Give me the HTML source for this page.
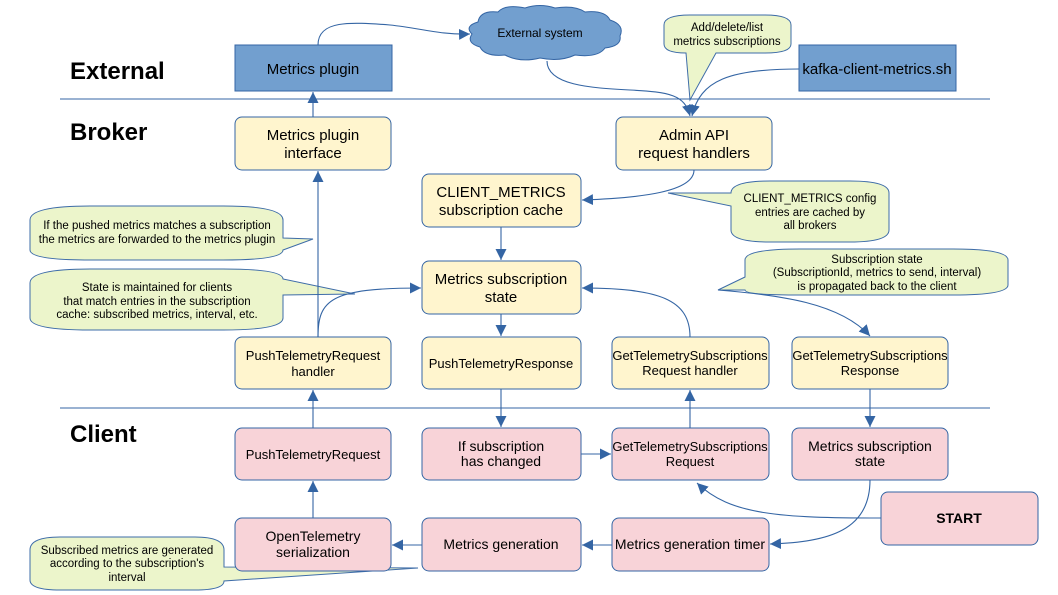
<!DOCTYPE html>
<html><head><meta charset="utf-8"><style>
html,body{margin:0;padding:0;background:#fff;}
svg{display:block;font-family:"Liberation Sans",sans-serif;}
</style></head><body>
<svg width="1058" height="595" viewBox="0 0 1058 595" xmlns="http://www.w3.org/2000/svg">
<defs>
<marker id="a" viewBox="0 0 10 10" refX="10" refY="5" markerWidth="11" markerHeight="11" markerUnits="userSpaceOnUse" orient="auto"><path d="M0,0 L10,5 L0,10 z" fill="#3465a4"/></marker>
</defs>
<!-- lanes -->
<line x1="60" y1="99" x2="990" y2="99" stroke="#3465a4" stroke-width="1"/>
<line x1="60" y1="408" x2="990" y2="408" stroke="#3465a4" stroke-width="1"/>
<g font-weight="bold" font-size="24" fill="#000">
<text x="70" y="79">External</text>
<text x="70" y="140">Broker</text>
<text x="70" y="442">Client</text>
</g>

<!-- callouts -->
<g fill="#ebf5c9" stroke="#3465a4" stroke-width="1" opacity="0.95">
<path d="M30,220 Q30,206 90,206 L223,206 Q283,206 283,220 L283,238 L313,239 L283,250 Q283,260 223,260 L90,260 Q30,260 30,250 Z"/>
<path d="M30,283 Q30,269 90,269 L223,269 Q283,269 283,279 L355,294 L283,295 L283,318 Q283,330 223,330 L90,330 Q30,330 30,318 Z"/>
<path d="M664,25 Q664,15 690,15 L765,15 Q791,15 791,25 L791,44 Q791,53 765,53 L716,53 L690,100 L686,53 Q664,53 664,44 Z"/>
<path d="M731,193 Q731,181 770,181 L850,181 Q889,181 889,193 L889,230 Q889,242 850,242 L770,242 Q731,242 731,230 L731,206 L668,193 Z"/>
<path d="M745,260 Q745,249 800,249 L953,249 Q1008,249 1008,260 L1008,285 Q1008,295 953,295 L800,295 Q745,295 745,290 L718,290 L745,277 Z"/>
<path d="M30,550 Q30,537 60,537 L195,537 Q224,537 224,550 L224,567 L418,568 L224,581 Q224,590 195,590 L60,590 Q30,590 30,580 Z"/>
</g>
<g font-size="11.5" fill="#000" text-anchor="middle">
<text x="157" y="229">If the pushed metrics matches a subscription</text>
<text x="157" y="243">the metrics are forwarded to the metrics plugin</text>
<text x="157" y="291">State is maintained for clients</text>
<text x="157" y="305">that match entries in the subscription</text>
<text x="157" y="318">cache: subscribed metrics, interval, etc.</text>
<text x="727" y="31">Add/delete/list</text>
<text x="727" y="45">metrics subscriptions</text>
<text x="810" y="202">CLIENT_METRICS config</text>
<text x="810" y="216">entries are cached by</text>
<text x="810" y="229">all brokers</text>
<text x="877" y="263">Subscription state</text>
<text x="877" y="276">(SubscriptionId, metrics to send, interval)</text>
<text x="877" y="290">is propagated back to the client</text>
<text x="127" y="554">Subscribed metrics are generated</text>
<text x="127" y="567">according to the subscription's</text>
<text x="127" y="581">interval</text>
</g>

<!-- cloud -->
<path d="M478,22 Q480,10 498,12 Q505,4 525,8 Q540,3 555,8 Q575,5 585,12 Q605,10 610,20 Q625,25 620,36 Q622,46 605,48 Q598,58 575,55 Q560,62 540,58 Q520,63 505,55 Q485,57 480,47 Q466,43 472,34 Q464,26 478,22 Z" fill="#729fcf" stroke="#3465a4"/>
<text x="540" y="37" font-size="12" text-anchor="middle">External system</text>

<!-- blue boxes -->
<g fill="#729fcf" stroke="#3465a4">
<rect x="235" y="45" width="157" height="46"/>
<rect x="799" y="45" width="157" height="46"/>
</g>
<g font-size="15" text-anchor="middle">
<text x="313" y="74">Metrics plugin</text>
<text x="877" y="74">kafka-client-metrics.sh</text>
</g>

<!-- yellow boxes -->
<g fill="#fff5ce" stroke="#3465a4">
<rect x="235" y="117" width="156" height="53" rx="7"/>
<rect x="616" y="117" width="156" height="53" rx="7"/>
<rect x="422" y="174" width="159" height="53" rx="7"/>
<rect x="422" y="261" width="159" height="53" rx="7"/>
<rect x="235" y="337" width="156" height="52" rx="7"/>
<rect x="422" y="337" width="159" height="52" rx="7"/>
<rect x="612" y="337" width="157" height="52" rx="7"/>
<rect x="792" y="337" width="156" height="52" rx="7"/>
</g>
<!-- pink boxes -->
<g fill="#f8d3d8" stroke="#3465a4">
<rect x="235" y="428" width="156" height="52" rx="7"/>
<rect x="422" y="428" width="159" height="52" rx="7"/>
<rect x="612" y="428" width="157" height="52" rx="7"/>
<rect x="792" y="428" width="156" height="52" rx="7"/>
<rect x="235" y="518" width="156" height="53" rx="7"/>
<rect x="422" y="518" width="159" height="53" rx="7"/>
<rect x="612" y="518" width="157" height="53" rx="7"/>
<rect x="881" y="492" width="157" height="53" rx="7"/>
</g>
<g font-size="15" text-anchor="middle" fill="#000">
<text x="313" y="140">Metrics plugin</text><text x="313" y="158">interface</text>
<text x="694" y="140">Admin API</text><text x="694" y="158">request handlers</text>
<text x="501" y="197">CLIENT_METRICS</text><text x="501" y="215">subscription cache</text>
<text x="501" y="284">Metrics subscription</text><text x="501" y="302">state</text>
</g>
<g font-size="13" text-anchor="middle" fill="#000">
<text x="313" y="360">PushTelemetryRequest</text><text x="313" y="376">handler</text>
<text x="501" y="368">PushTelemetryResponse</text>
<text x="690" y="360">GetTelemetrySubscriptions</text><text x="690" y="375">Request handler</text>
<text x="870" y="360">GetTelemetrySubscriptions</text><text x="870" y="375">Response</text>
<text x="313" y="459">PushTelemetryRequest</text>
<text x="690" y="451">GetTelemetrySubscriptions</text><text x="690" y="466">Request</text>
</g>
<g font-size="14" text-anchor="middle" fill="#000">
<text x="501" y="451">If subscription</text><text x="501" y="466">has changed</text>
<text x="870" y="451">Metrics subscription</text><text x="870" y="466">state</text>
<text x="313" y="541">OpenTelemetry</text><text x="313" y="557">serialization</text>
<text x="501" y="549">Metrics generation</text>
<text x="690" y="549">Metrics generation timer</text>
<text x="959" y="523" font-weight="bold">START</text>
</g>

<!-- connectors -->
<g fill="none" stroke="#3465a4" stroke-width="1.1" marker-end="url(#a)">
<path d="M318,45 C318,20 350,22 390,25 C420,28 440,35 470,34"/>
<path d="M547,61 C547,85 590,88 630,90 C670,92 685,95 690,116"/>
<path d="M799,69 C730,69 700,80 692,116"/>
<line x1="313" y1="117" x2="313" y2="92"/>
<line x1="318" y1="337" x2="318" y2="171"/>
<path d="M694,170 C694,192 640,198 582,200"/>
<line x1="501" y1="227" x2="501" y2="260"/>
<path d="M318,337 C318,300 330,288 421,288"/>
<path d="M690,337 C690,300 660,288 582,288"/>
<path d="M718,290 C780,295 840,303 870,336"/>
<line x1="501" y1="314" x2="501" y2="336"/>
<line x1="501" y1="389" x2="501" y2="427"/>
<line x1="690" y1="428" x2="690" y2="390"/>
<line x1="870" y1="389" x2="870" y2="427"/>
<line x1="313" y1="428" x2="313" y2="390"/>
<line x1="313" y1="518" x2="313" y2="481"/>
<line x1="581" y1="454" x2="611" y2="454"/>
<line x1="422" y1="545" x2="392" y2="545"/>
<line x1="612" y1="545" x2="582" y2="545"/>
<path d="M870,480 C870,530 830,542 770,544"/>
<path d="M881,518 C780,518 730,515 697,483"/>
</g>
</svg>
</body></html>
